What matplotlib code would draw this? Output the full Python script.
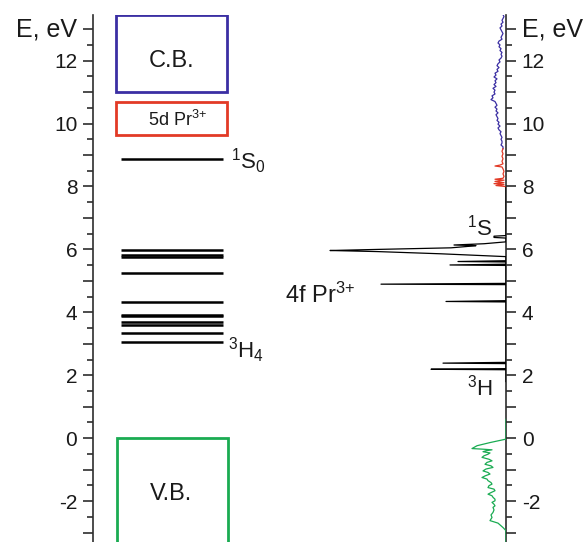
import matplotlib
matplotlib.use('Agg')
import matplotlib.pyplot as plt
from matplotlib.patches import Rectangle
from matplotlib.ticker import FixedLocator, FixedFormatter

plt.rcParams['font.family'] = ['Liberation Sans', 'DejaVu Sans']
plt.rcParams['mathtext.fontset'] = 'custom'
plt.rcParams['mathtext.rm'] = 'Liberation Sans'
plt.rcParams['mathtext.it'] = 'Liberation Sans:italic'
plt.rcParams['mathtext.bf'] = 'Liberation Sans:bold'

# ---------------- data ----------------
level_energies = [8.87, 5.97, 5.81, 5.76, 5.26, 4.32, 3.92, 3.88, 3.68, 3.60, 3.33, 3.06]

band_names = ['C.B.', '5d Pr$^{3{+}}$', 'V.B.']
band_bottom = [11.0, 9.63, -3.6]
band_top = [13.45, 10.69, 0.0]
band_colors = ['#3b2fa3', '#e23a26', '#1aab52']

tick_values = [-3, -2, -1, 0, 1, 2, 3, 4, 5, 6, 7, 8, 9, 10, 11, 12, 13]
tick_labels = ['', '-2', '', '0', '', '2', '', '4', '', '6', '', '8', '', '10', '', '12', '']
axis_title = 'E, eV'
axis_title_value = 13
minor_tick_values = [-2.5, -1.5, -0.5, 0.5, 1.5, 2.5, 3.5, 4.5, 5.5, 6.5, 7.5, 8.5, 9.5,
                     10.5, 11.5, 12.5, 13.5]

# density of states (arb. units), conduction band part
cb_E = [13.46, 13.40, 13.34, 13.28, 13.22, 13.16, 13.10, 13.04, 12.98, 12.92, 12.86, 12.80,
        12.74, 12.68, 12.62, 12.56, 12.50, 12.44, 12.38, 12.32, 12.26, 12.20, 12.14, 12.08,
        12.02, 11.96, 11.90, 11.84, 11.78, 11.72, 11.66, 11.60, 11.54, 11.48, 11.42, 11.36,
        11.30, 11.24, 11.18, 11.12, 11.06, 11.00, 10.94, 10.88, 10.82, 10.76, 10.70, 10.64,
        10.58, 10.52, 10.46, 10.40, 10.34, 10.28, 10.22, 10.16, 10.10, 10.04, 9.98, 9.92,
        9.86, 9.80, 9.74, 9.68, 9.62, 9.56, 9.50, 9.44, 9.38, 9.32, 9.26, 9.20]
cb_I = [3, 2, 3, 4, 3, 5, 4, 6, 5, 4, 3, 4, 5, 4, 7, 8, 6, 7, 5, 6, 4, 5, 4, 5,
        7, 6, 8, 9, 7, 9, 8, 11, 10, 12, 9, 11, 10, 12, 10, 13, 11, 12, 11, 14, 13, 15,
        11, 10, 9, 11, 9, 10, 8, 10, 9, 8, 9, 7, 8, 6, 8, 7, 5, 6, 5, 4, 5, 4, 4, 5, 3, 3]

# 5d Pr3+ part
d5_E = [9.20, 9.12, 9.04, 8.96, 8.88, 8.80, 8.72, 8.68, 8.65, 8.62, 8.56, 8.48, 8.40,
        8.32, 8.26, 8.23, 8.20, 8.16, 8.12, 8.09, 8.06, 8.03, 8.00, 7.98]
d5_I = [3, 4, 3, 4, 3, 4, 3, 6, 11, 4, 3, 2, 3, 2, 3, 11, 2, 11, 2, 12, 2, 10, 1, 0]

# 4f Pr3+ part
f4_E = [7.98, 6.44, 6.42, 6.38, 6.36, 6.24, 6.18, 6.14, 6.12, 6.09, 6.05, 6.00, 5.975,
        5.965, 5.955, 5.93, 5.86, 5.77, 5.64, 5.615, 5.60, 5.53, 5.505, 5.49, 4.92,
        4.895, 4.88, 4.37, 4.345, 4.33, 2.41, 2.385, 2.37, 2.21, 2.19, 2.175, 1.80]
f4_I = [0, 0, 12, 12, 0, 0, 22, 52, 30, 40, 55, 128, 162, 176, 162, 128, 65, 0, 0, 48,
        0, 0, 56, 0, 0, 125, 0, 0, 60, 0, 0, 63, 0, 0, 75, 0, 0]

# valence band part
vb_E = [0.60, -0.03, -0.085, -0.14, -0.24, -0.33, -0.35, -0.37, -0.40, -0.43, -0.47,
        -0.51, -0.56, -0.61, -0.67, -0.72, -0.77, -0.83, -0.88, -0.93, -0.98, -1.04,
        -1.09, -1.14, -1.20, -1.25, -1.30, -1.35, -1.41, -1.46, -1.51, -1.57, -1.62,
        -1.67, -1.73, -1.78, -1.83, -1.88, -1.94, -1.99, -2.04, -2.10, -2.15, -2.20,
        -2.28, -2.36, -2.44, -2.52, -2.57, -2.62, -2.70, -2.84, -2.94, -3.30]
vb_I = [0, 0, 8, 16, 29, 34, 23, 14, 20, 23, 16, 18, 22, 24, 17, 14, 19, 21, 15, 13,
        20, 23, 18, 16, 21, 24, 19, 18, 15, 14, 17, 18, 12, 11, 15, 18, 14, 13, 11,
        11, 14, 12, 11, 13, 12, 13, 15, 14, 15, 16, 8, 3, 0, 0]

# ---------------- figure ----------------
fig = plt.figure(figsize=(5.87, 5.42), dpi=100)
ax = fig.add_axes([93 / 587, 0.0, 413 / 587, 527 / 542])
ax.set_xlim(0, 1)
ax.set_ylim(-3.3, 13.45)

axis_col = '#2e2e2e'
text_col = '#1a1a1a'
for s in ['top', 'bottom']:
    ax.spines[s].set_visible(False)
for s in ['left', 'right']:
    ax.spines[s].set_color(axis_col)
    ax.spines[s].set_linewidth(1.2)

ax.set_xticks([])
ax.yaxis.set_major_locator(FixedLocator(tick_values))
ax.yaxis.set_major_formatter(FixedFormatter(tick_labels))
ax.yaxis.set_minor_locator(FixedLocator(minor_tick_values))
ax.tick_params(axis='y', which='both', left=True, right=True, labelleft=True,
               labelright=True, direction='out', color=axis_col, width=1.2,
               labelsize=15, labelcolor=text_col)
ax.tick_params(axis='y', which='major', length=7.5, pad=3.8)
ax.tick_params(axis='y', which='minor', length=4.5)

# axis titles placed at the top major tick on both sides
ytr = ax.get_yaxis_transform()
ax.text(-0.039, axis_title_value, axis_title, transform=ytr, ha='right', va='center',
        fontsize=18, color=text_col)
ax.text(1.039, axis_title_value, axis_title, transform=ytr, ha='left', va='center',
        fontsize=18, color=text_col)

# energy levels
for e in level_energies:
    ax.plot([0.068, 0.315], [e, e], color='black', lw=1.8, solid_capstyle='butt')

# band boxes
box_x0 = [0.056, 0.056, 0.058]
box_x1 = [0.324, 0.324, 0.327]
for name, b, t, c, x0, x1 in zip(band_names, band_bottom, band_top, band_colors, box_x0, box_x1):
    ax.add_patch(Rectangle((x0, b), x1 - x0, t - b, fill=False, edgecolor=c, lw=2.0))

ax.text(0.19, 12.0, band_names[0], ha='center', va='center', fontsize=17, color=text_col)
ax.text(0.205, 10.12, band_names[1], ha='center', va='center', fontsize=13, color=text_col)
ax.text(0.19, -1.78, band_names[2], ha='center', va='center', fontsize=17, color=text_col)

ax.text(0.334, 8.80, '$^{1}$S$_{0}$', ha='left', va='center', fontsize=16, color=text_col)
ax.text(0.326, 2.80, '$^{3}$H$_{4}$', ha='left', va='center', fontsize=16, color=text_col)
ax.text(0.465, 4.55, '4f Pr$^{3{+}}$', ha='left', va='center', fontsize=17, color=text_col)
ax.text(0.905, 6.70, '$^{1}$S', ha='left', va='center', fontsize=16, color=text_col)
ax.text(0.905, 1.62, '$^{3}$H', ha='left', va='center', fontsize=16, color=text_col)

# density of states (pointing left from the right spine)
ax2 = ax.twiny()
ax2.set_xlim(413, 0)
ax2.set_axis_off()
ax2.plot(cb_I, cb_E, color='#3b2fa3', lw=0.9)
ax2.plot(d5_I, d5_E, color='#e23a26', lw=0.9)
ax2.plot(f4_I, f4_E, color='black', lw=0.9)
ax2.plot(vb_I, vb_E, color='#1aab52', lw=0.9)

fig.savefig('out.png', dpi=100, facecolor='white')
